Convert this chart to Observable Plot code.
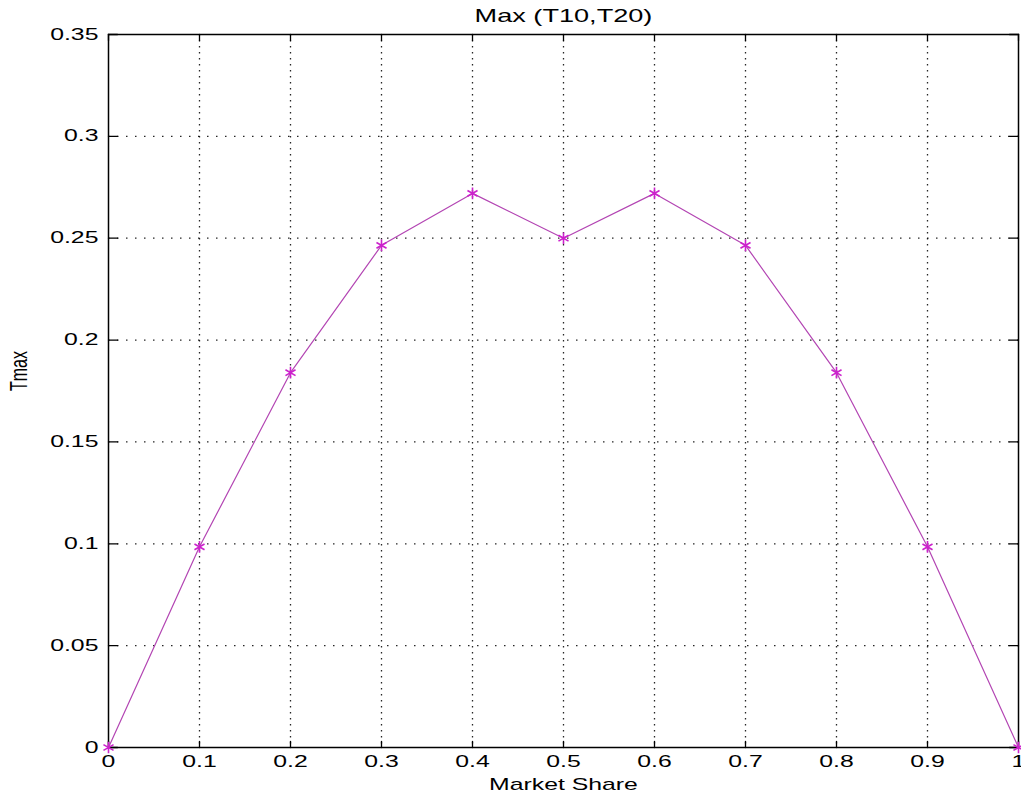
<!DOCTYPE html>
<html>
<head>
<meta charset="utf-8">
<script src="https://cdn.jsdelivr.net/npm/d3@7"></script>
<script src="https://cdn.jsdelivr.net/npm/@observablehq/plot@0.6"></script>
<style>
  html, body { margin: 0; padding: 0; background: white; }
  #chart { width: 1021px; height: 794px; }
</style>
</head>
<body>
<div id="chart"></div>
<script>
// ---- data ----
const shares = [0, 0.1, 0.2, 0.3, 0.4, 0.5, 0.6, 0.7, 0.8, 0.9, 1];
const tmaxValues = [0, 0.0985, 0.184, 0.2465, 0.272, 0.25, 0.272, 0.2465, 0.184, 0.0985, 0];
const xTicks = [0, 0.1, 0.2, 0.3, 0.4, 0.5, 0.6, 0.7, 0.8, 0.9, 1];
const xTickLabels = ["0", "0.1", "0.2", "0.3", "0.4", "0.5", "0.6", "0.7", "0.8", "0.9", "1"];
const yTicks = [0, 0.05, 0.1, 0.15, 0.2, 0.25, 0.3, 0.35];
const yTickLabels = ["0", "0.05", "0.1", "0.15", "0.2", "0.25", "0.3", "0.35"];
const titleText = "Max (T10,T20)";
const xLabel = "Market Share";
const yLabel = "Tmax";

const rows = shares.map((s, i) => ({share: s, tmax: tmaxValues[i]}));

const tickShape = {draw(ctx, l) { ctx.moveTo(0, 0); ctx.lineTo(0, -l); }};
const lineColor = "#b345b3";
const markColor = "#cc22cc";

const chart = Plot.plot({
  width: 1021,
  height: 794,
  marginLeft: 108,
  marginRight: 3,
  marginTop: 34,
  marginBottom: 47,
  style: {background: "white", fontFamily: "'Liberation Sans', Arial, sans-serif", fontSize: "16px", color: "black"},
  x: {domain: [0, 1]},
  y: {domain: [0, 0.35]},
  marks: [
    Plot.gridY(yTicks.slice(1, -1), {stroke: "black", strokeOpacity: 0.85, strokeWidth: 1.3, strokeDasharray: "1.5,7.5"}),
    Plot.gridX(xTicks.slice(1, -1), {stroke: "black", strokeOpacity: 0.85, strokeWidth: 1.3, strokeDasharray: "1.5,4.5"}),
    Plot.frame({stroke: "black", strokeWidth: 1.5}),
    Plot.vector(xTicks, {x: d => d, y: yTicks[0], length: 6, rotate: 0, anchor: "start", shape: tickShape, stroke: "black", strokeWidth: 1.3}),
    Plot.vector(xTicks, {x: d => d, y: yTicks[yTicks.length - 1], length: 6, rotate: 180, anchor: "start", shape: tickShape, stroke: "black", strokeWidth: 1.3}),
    Plot.vector(yTicks, {y: d => d, x: xTicks[0], length: 9, rotate: 90, anchor: "start", shape: tickShape, stroke: "black", strokeWidth: 1.3}),
    Plot.vector(yTicks, {y: d => d, x: xTicks[xTicks.length - 1], length: 9, rotate: -90, anchor: "start", shape: tickShape, stroke: "black", strokeWidth: 1.3}),
    Plot.axisX(xTicks, {anchor: "bottom", tickSize: 0, tickPadding: 8, tickFormat: d => xTickLabels[xTicks.indexOf(d)], label: null, fontSize: 16}),
    Plot.axisY(yTicks, {anchor: "left", tickSize: 0, tickPadding: 10, tickFormat: d => yTickLabels[yTicks.indexOf(d)], label: null, fontSize: 16}),
    Plot.line(rows, {x: "share", y: "tmax", stroke: lineColor, strokeWidth: 1.2}),
    Plot.dot(rows, {x: "share", y: "tmax", symbol: "asterisk", r: 5.5, stroke: markColor, strokeWidth: 1.6}),
    Plot.text([titleText], {frameAnchor: "top", lineAnchor: "middle", dy: -18, fontSize: 17.5, fill: "black"}),
    Plot.text([xLabel], {frameAnchor: "bottom", lineAnchor: "middle", dy: 37, fontSize: 16, fill: "black"}),
    Plot.text([yLabel], {frameAnchor: "left", dx: -90, rotate: -90, fontSize: 16, fill: "black"})
  ]
});

document.getElementById("chart").appendChild(chart);

// horizontal stretch of text glyphs, as in the reference picture
const stretch = 1.55;
chart.querySelectorAll("text").forEach(el => {
  const bb = el.getBBox();
  const tr = el.getAttribute("transform") || "";
  if (/rotate/.test(tr)) {
    const py = bb.y + bb.height / 2;
    el.setAttribute("transform", `${tr} translate(0,${py}) scale(1,${stretch}) translate(0,${-py})`);
  } else {
    const anchor = getComputedStyle(el).textAnchor;
    const px = anchor === "middle" ? bb.x + bb.width / 2 : anchor === "end" ? bb.x + bb.width : bb.x;
    el.setAttribute("transform", `${tr} translate(${px},0) scale(${stretch},1) translate(${-px},0)`);
  }
});
</script>
</body>
</html>
